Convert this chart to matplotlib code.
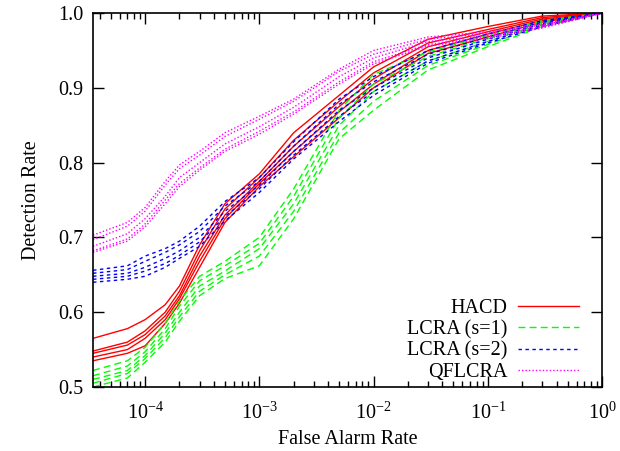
import numpy as np
import matplotlib
matplotlib.use("Agg")
import matplotlib.pyplot as plt

plt.rcParams['font.family'] = ['Liberation Serif', 'DejaVu Serif']
plt.rcParams['mathtext.fontset'] = 'custom'
plt.rcParams['mathtext.rm'] = 'Liberation Serif'
plt.rcParams['mathtext.it'] = 'Liberation Serif:italic'

# False alarm rate (shared by all curves)
far = [3.5e-5, 7e-5, 1e-4, 1.5e-4, 2e-4, 3e-4, 5e-4, 1e-3, 2e-3,
       5e-3, 1e-2, 3e-2, 1e-1, 3e-1, 1.0]

# Detection rates, 5 runs per method
hacd = [
    [0.565, 0.578, 0.590, 0.610, 0.635, 0.690, 0.745, 0.785, 0.840, 0.890, 0.928, 0.965, 0.982, 0.996, 1.0],
    [0.548, 0.560, 0.575, 0.600, 0.628, 0.682, 0.738, 0.780, 0.830, 0.882, 0.920, 0.960, 0.978, 0.994, 1.0],
    [0.545, 0.556, 0.570, 0.595, 0.622, 0.675, 0.730, 0.775, 0.822, 0.875, 0.912, 0.955, 0.975, 0.992, 1.0],
    [0.540, 0.550, 0.565, 0.590, 0.618, 0.668, 0.725, 0.772, 0.815, 0.868, 0.905, 0.950, 0.972, 0.990, 1.0],
    [0.535, 0.545, 0.555, 0.585, 0.612, 0.660, 0.720, 0.768, 0.808, 0.860, 0.900, 0.946, 0.968, 0.988, 1.0],
]
lcra1 = [
    [0.522, 0.535, 0.553, 0.585, 0.615, 0.648, 0.668, 0.700, 0.765, 0.870, 0.918, 0.948, 0.970, 0.990, 1.0],
    [0.515, 0.528, 0.547, 0.578, 0.608, 0.642, 0.662, 0.692, 0.755, 0.860, 0.905, 0.942, 0.966, 0.988, 1.0],
    [0.510, 0.522, 0.542, 0.572, 0.600, 0.635, 0.655, 0.685, 0.745, 0.850, 0.895, 0.936, 0.962, 0.986, 1.0],
    [0.505, 0.518, 0.538, 0.566, 0.594, 0.628, 0.650, 0.675, 0.735, 0.840, 0.882, 0.930, 0.958, 0.984, 1.0],
    [0.500, 0.512, 0.533, 0.560, 0.588, 0.622, 0.645, 0.662, 0.725, 0.832, 0.870, 0.924, 0.955, 0.982, 1.0],
]
lcra2 = [
    [0.656, 0.662, 0.675, 0.685, 0.695, 0.715, 0.748, 0.780, 0.828, 0.885, 0.915, 0.950, 0.972, 0.990, 1.0],
    [0.652, 0.657, 0.668, 0.680, 0.690, 0.708, 0.742, 0.775, 0.822, 0.878, 0.908, 0.945, 0.968, 0.988, 1.0],
    [0.648, 0.652, 0.660, 0.672, 0.682, 0.700, 0.735, 0.770, 0.815, 0.870, 0.900, 0.940, 0.965, 0.986, 1.0],
    [0.644, 0.648, 0.655, 0.665, 0.676, 0.694, 0.728, 0.765, 0.810, 0.862, 0.895, 0.936, 0.962, 0.984, 1.0],
    [0.640, 0.644, 0.648, 0.660, 0.672, 0.688, 0.722, 0.760, 0.805, 0.855, 0.890, 0.933, 0.960, 0.982, 1.0],
]
qflcra = [
    [0.703, 0.720, 0.740, 0.775, 0.797, 0.815, 0.840, 0.862, 0.885, 0.925, 0.950, 0.968, 0.975, 0.985, 1.0],
    [0.697, 0.715, 0.735, 0.770, 0.792, 0.810, 0.835, 0.858, 0.882, 0.922, 0.945, 0.965, 0.973, 0.984, 1.0],
    [0.688, 0.705, 0.725, 0.755, 0.780, 0.800, 0.825, 0.848, 0.874, 0.915, 0.940, 0.962, 0.970, 0.982, 1.0],
    [0.682, 0.698, 0.718, 0.750, 0.772, 0.793, 0.818, 0.842, 0.868, 0.908, 0.935, 0.958, 0.968, 0.981, 1.0],
    [0.680, 0.695, 0.714, 0.745, 0.768, 0.790, 0.815, 0.838, 0.865, 0.905, 0.932, 0.956, 0.966, 0.980, 1.0],
]

fig = plt.figure(figsize=(6.2, 4.51), dpi=100)
ax = fig.add_axes([0.15, 0.142, 0.821, 0.829])

styles = [
    ("HACD", hacd, "#ff0000", "-"),
    ("LCRA (s=1)", lcra1, "#00ff00", (0, (5, 3))),
    ("LCRA (s=2)", lcra2, "#0000ff", (0, (2.5, 2.5))),
    ("QFLCRA", qflcra, "#ff00ff", (0, (1, 1.5))),
]
for name, runs, col, ls in styles:
    for i, y in enumerate(runs):
        ax.plot(far, y, color=col, linestyle=ls, linewidth=1.0,
                label=name if i == 0 else None)

ax.set_xscale('log')
ax.set_xlim(3.5e-5, 1.0)
ax.set_ylim(0.5, 1.0)
ax.set_yticks([0.5, 0.6, 0.7, 0.8, 0.9, 1.0])
ax.set_yticklabels(["0.5", "0.6", "0.7", "0.8", "0.9", "1.0"])
ax.tick_params(which='both', direction='in', top=True, right=True, labelsize=14.5)
ax.tick_params(which='major', length=8, width=1, pad=7)
ax.tick_params(which='minor', length=4, width=1)
ax.tick_params(axis='x', which='major', pad=11)
for s in ax.spines.values():
    s.set_linewidth(1.2)

ax.set_xlabel("False Alarm Rate", fontsize=14.5, labelpad=5)
ax.set_ylabel("Detection Rate", fontsize=14.5, labelpad=12)

ax.legend(loc='lower right', frameon=False, markerfirst=False, fontsize=14.5,
          handlelength=3.0, handletextpad=0.55, labelspacing=0.1,
          borderaxespad=0.0, bbox_to_anchor=(0.970, -0.008))

fig.savefig("out.png", dpi=100)
